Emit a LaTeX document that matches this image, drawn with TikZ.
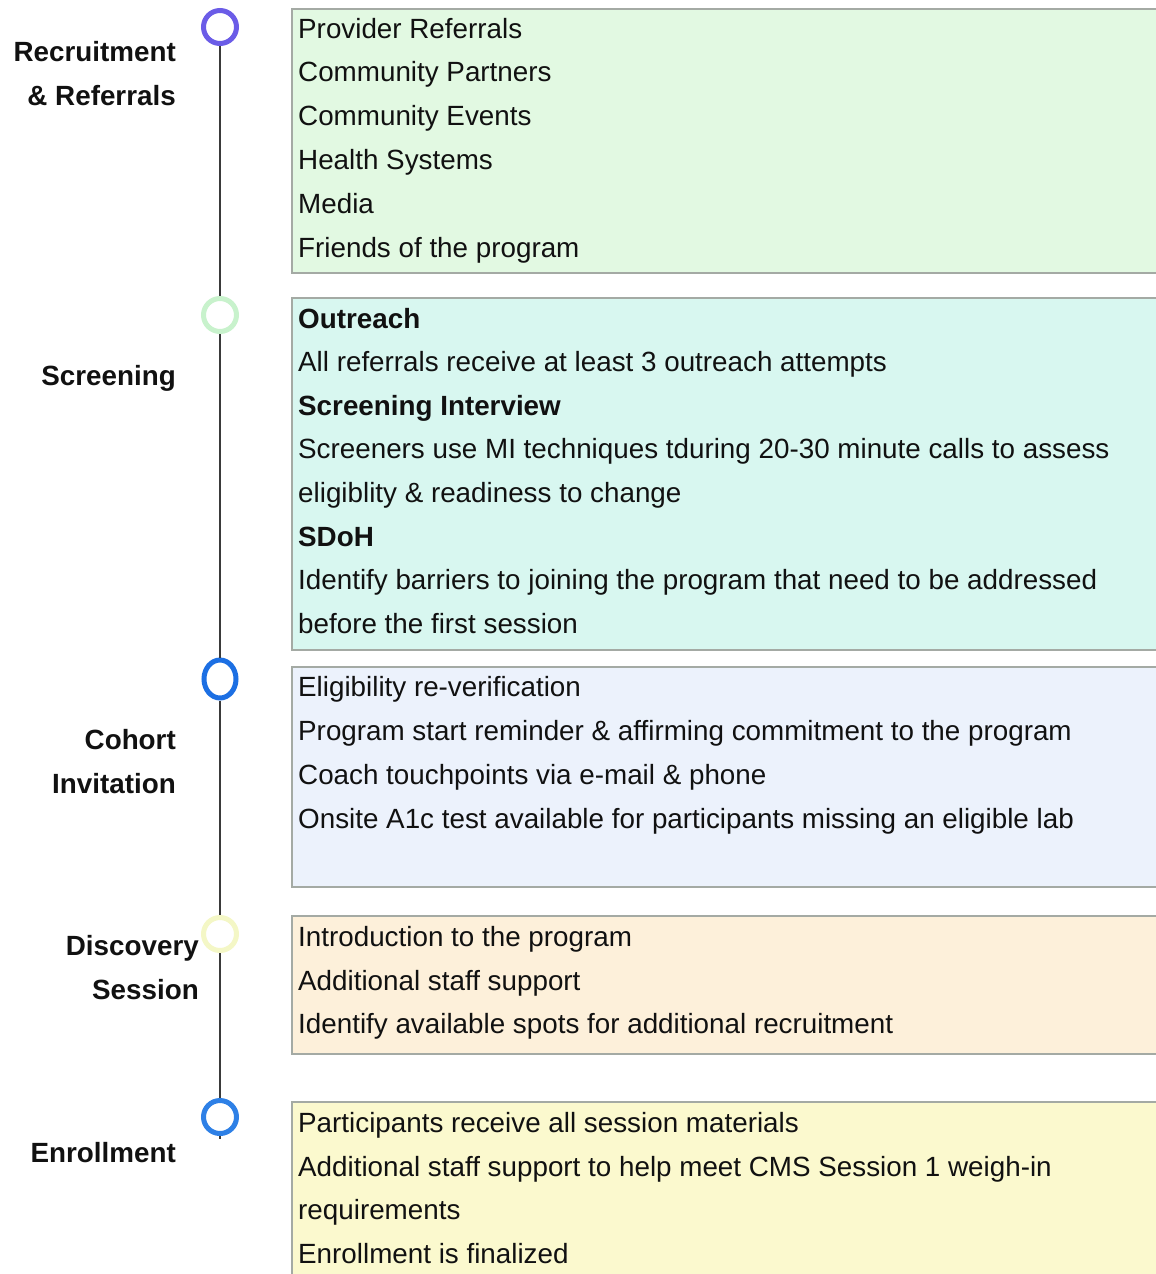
\documentclass[tikz,border=0pt]{standalone}
\usepackage{fontspec}
\setmainfont{Liberation Sans}
\usetikzlibrary{shapes.geometric}
\definecolor{inkc}{HTML}{111111}
\definecolor{panelgray}{HTML}{A4AAA4}
\definecolor{spinegray}{HTML}{3A3A3A}
\definecolor{fillA}{HTML}{E2F9E2}
\definecolor{fillB}{HTML}{D8F7F0}
\definecolor{fillC}{HTML}{ECF2FC}
\definecolor{fillD}{HTML}{FDF0DA}
\definecolor{fillE}{HTML}{FBF9CE}
\definecolor{ringA}{HTML}{6B5CE7}
\definecolor{ringB}{HTML}{C8F2CC}
\definecolor{ringC}{HTML}{1C6FE3}
\definecolor{ringD}{HTML}{F4F7C6}
\definecolor{ringE}{HTML}{2E80E6}
\begin{document}
\begin{tikzpicture}[x=1pt,y=-1pt,
  txt/.style={inner sep=0pt, text=inkc, font=\fontsize{27.8}{32}\selectfont},
  item/.style={txt, anchor=base west},
  head/.style={item, font=\fontsize{27.8}{32}\selectfont\bfseries},
  stage/.style={txt, anchor=base east, font=\fontsize{27.8}{32}\selectfont\bfseries},
  panel/.style={draw=panelgray, line width=2pt},
  ring/.style={circle, minimum size=33pt, line width=5pt, inner sep=0pt, fill=white},
  spine/.style={line width=2pt, draw=spinegray}]
\useasboundingbox (0,0) rectangle (1156,1274);
\clip (0,0) rectangle (1156,1274);

% stage panels
\draw[panel, fill=fillA] (292,9) rectangle (1170,273);
\draw[panel, fill=fillB] (292,298) rectangle (1170,650);
\draw[panel, fill=fillC] (292,667) rectangle (1170,887);
\draw[panel, fill=fillD] (292,916) rectangle (1170,1054);
\draw[panel, fill=fillE] (292,1102) rectangle (1170,1290);

% timeline markers
\node[ring, draw=ringA] (r1) at (220,27) {};
\node[ring, draw=ringB] (r2) at (220,315) {};
\node[ellipse, minimum width=32pt, minimum height=38pt, line width=5pt, inner sep=0pt, fill=white, draw=ringC] (r3) at (220,679) {};
\node[ring, draw=ringD] (r4) at (220,934) {};
\node[ring, draw=ringE] (r5) at (220,1117) {};
\coordinate (tail) at (220,1139);
\draw[spine] (r1) -- (r2);
\draw[spine] (r2) -- (r3);
\draw[spine] (r3) -- (r4);
\draw[spine] (r4) -- (r5);
\draw[spine] (r5) -- (tail);

\begin{scope}[shift={(0,1)}]
% stage labels
\node[stage] (s1a) at (176,60) {Recruitment};
\node[stage] (s1b) at (176,104) {\& Referrals};
\node[stage] (s2) at (176,384) {Screening};
\node[stage] (s3a) at (176,748) {Cohort};
\node[stage] (s3b) at (176,792) {Invitation};
\node[stage] (s4a) at (199,954) {Discovery};
\node[stage] (s4b) at (199,998) {Session};
\node[stage] (s5) at (176,1161) {Enrollment};

% recruitment & referrals
\node[item] (a1) at (298,37) {Provider Referrals};
\node[item] (a2) at (298,80.8) {Community Partners};
\node[item] (a3) at (298,124.6) {Community Events};
\node[item] (a4) at (298,168.4) {Health Systems};
\node[item] (a5) at (298,212.2) {Media};
\node[item] (a6) at (298,256) {Friends of the program};

% screening
\node[head] (b1) at (298,327) {Outreach};
\node[item] (b2) at (298,370.6) {All referrals receive at least 3 outreach attempts};
\node[head] (b3) at (298,414.2) {Screening Interview};
\node[item] (b4) at (298,457.8) {Screeners use MI techniques tduring 20-30 minute calls to assess};
\node[item] (b5) at (298,501.4) {eligiblity \& readiness to change};
\node[head] (b6) at (298,545) {SDoH};
\node[item] (b7) at (298,588.6) {Identify barriers to joining the program that need to be addressed};
\node[item] (b8) at (298,632.2) {before the first session};

% cohort invitation
\node[item] (c1) at (298,695) {Eligibility re-verification};
\node[item] (c2) at (298,739) {Program start reminder \& affirming commitment to the program};
\node[item] (c3) at (298,783) {Coach touchpoints via e-mail \& phone};
\node[item] (c4) at (298,827) {Onsite A1c test available for participants missing an eligible lab};

% discovery session
\node[item] (d1) at (298,945) {Introduction to the program};
\node[item] (d2) at (298,989) {Additional staff support};
\node[item] (d3) at (298,1032) {Identify available spots for additional recruitment};

% enrollment
\node[item] (e1) at (298,1131) {Participants receive all session materials};
\node[item] (e2) at (298,1175) {Additional staff support to help meet CMS Session 1 weigh-in};
\node[item] (e3) at (298,1218) {requirements};
\node[item] (e4) at (298,1262) {Enrollment is finalized};
\end{scope}
\end{tikzpicture}
\end{document}
